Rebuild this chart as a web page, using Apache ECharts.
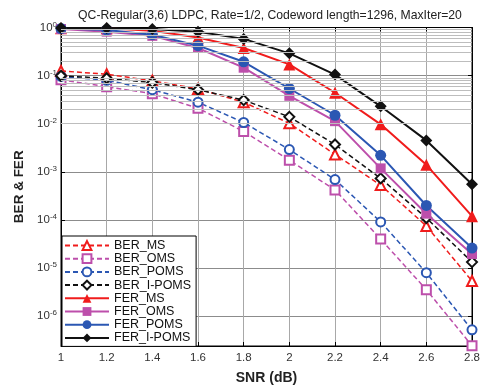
<!DOCTYPE html>
<html>
<head>
<meta charset="utf-8">
<script src="https://cdn.jsdelivr.net/npm/echarts@6/dist/echarts.min.js"></script>
<style>
  html, body { margin: 0; padding: 0; background: #fff; }
  #chart { width: 483px; height: 390px; }
</style>
</head>
<body>
<div id="chart"></div>
<script>
// SNR points (dB)
const snr = [1, 1.2, 1.4, 1.6, 1.8, 2.0, 2.2, 2.4, 2.6, 2.8];

// bit error rate
const berMS = [0.125, 0.107, 0.078, 0.053, 0.028, 0.0102, 0.0023, 5.3e-4, 7.5e-5, 5.4e-6];
const berOMS = [0.082, 0.059, 0.042, 0.021, 0.0069, 0.00175, 4.2e-4, 4.0e-5, 3.55e-6, 2.43e-7];
const berPOMS = [0.096, 0.080, 0.051, 0.028, 0.0106, 0.0029, 6.9e-4, 9.1e-5, 8.0e-6, 5.2e-7];
const berIPOMS = [0.099, 0.088, 0.072, 0.051, 0.031, 0.0139, 0.0037, 7.3e-4, 1.1e-4, 1.33e-5];

// frame error rate
const ferMS = [0.97, 0.96, 0.86, 0.62, 0.375, 0.171, 0.044, 0.0097, 0.0014, 1.2e-4];
const ferOMS = [0.93, 0.82, 0.67, 0.375, 0.146, 0.038, 0.0113, 0.00118, 1.35e-4, 1.96e-5];
const ferPOMS = [0.95, 0.89, 0.71, 0.42, 0.194, 0.054, 0.015, 0.0022, 2.0e-4, 2.6e-5];
const ferIPOMS = [0.98, 0.98, 0.93, 0.82, 0.58, 0.29, 0.105, 0.023, 0.0045, 5.5e-4];

const Y_MIN = 2.4e-7;
const Y_MAX = 1;

const RED = '#f01c1c';
const MAGENTA = '#bd4fab';
const BLUE = '#2b57b3';
const BLACK = '#111';

// minor log grid lines (2..9 in every decade)
const minorLines = [];
for (let e = -7; e < 0; e++) {
  for (let k = 2; k <= 9; k++) {
    const v = k * Math.pow(10, e);
    if (v > Y_MIN && v < Y_MAX) minorLines.push({yAxis: v});
  }
}

const pair = data => snr.map((x, i) => [x, data[i]]);

function ber(name, data, color, symbol, size) {
  return {
    name: name,
    type: 'line',
    data: pair(data),
    symbol: symbol,
    symbolSize: size,
    z: 3,
    lineStyle: {color: color, width: 1.5, type: [5, 3]},
    itemStyle: {color: color, borderWidth: 1.5},
  };
}

function fer(name, data, color, symbol, size) {
  return {
    name: name,
    type: 'line',
    data: pair(data),
    symbol: symbol,
    symbolSize: size,
    z: 4,
    lineStyle: {color: color, width: 2},
    itemStyle: {color: color},
  };
}

const chart = echarts.init(document.getElementById('chart'), null, {renderer: 'canvas'});

const option = {
  backgroundColor: '#fff',
  animation: false,
  title: {
    text: 'QC-Regular(3,6) LDPC, Rate=1/2, Codeword length=1296, MaxIter=20',
    left: 265,
    top: 5,
    textAlign: 'center',
    textStyle: {fontFamily: 'Liberation Sans', fontSize: 12.2, fontWeight: 'normal', color: '#222'},
  },
  grid: {
    left: 61,
    right: 10,
    top: 27.5,
    bottom: 38.3,
    show: true,
    borderColor: '#000',
    borderWidth: 1,
    containLabel: false,
  },
  legend: {
    orient: 'vertical',
    left: 62,
    top: 236,
    itemWidth: 44,
    itemHeight: 11,
    itemGap: 0.2,
    padding: [3, 5, 2, 2],
    backgroundColor: '#fff',
    borderColor: '#000',
    borderWidth: 1,
    textStyle: {fontFamily: 'Liberation Sans', fontSize: 12.5, lineHeight: 12, color: '#111'},
    data: ['BER_MS', 'BER_OMS', 'BER_POMS', 'BER_I-POMS', 'FER_MS', 'FER_OMS', 'FER_POMS', 'FER_I-POMS'],
  },
  xAxis: [
    {
      type: 'value',
      min: 1,
      max: 2.8,
      interval: 0.2,
      name: 'SNR (dB)',
      nameLocation: 'middle',
      nameGap: 25,
      nameTextStyle: {fontFamily: 'Liberation Sans', fontSize: 14, fontWeight: 'bold', color: '#222'},
      axisLine: {lineStyle: {color: '#000', width: 1}},
      axisTick: {inside: true, length: 4, lineStyle: {color: '#000'}},
      axisLabel: {fontFamily: 'Liberation Sans', fontSize: 11.5, color: '#333', margin: 6},
      splitLine: {show: true, lineStyle: {color: '#a8a8a8', width: 1}},
    },
    {
      type: 'value',
      position: 'top',
      min: 1,
      max: 2.8,
      interval: 0.2,
      axisLine: {lineStyle: {color: '#000', width: 1}},
      axisTick: {inside: true, length: 4, lineStyle: {color: '#000'}},
      axisLabel: {show: false},
      splitLine: {show: false},
    },
  ],
  yAxis: [
    {
      type: 'log',
      min: Y_MIN,
      max: Y_MAX,
      name: 'BER & FER',
      nameLocation: 'middle',
      nameGap: 35,
      nameTextStyle: {fontFamily: 'Liberation Sans', fontSize: 13.5, fontWeight: 'bold', color: '#222'},
      axisLine: {lineStyle: {color: '#000', width: 1}},
      axisTick: {inside: true, length: 4, lineStyle: {color: '#000'}},
      axisLabel: {
        margin: 4,
        showMinLabel: false,
        formatter: function (value) {
          const lg = Math.log10(value);
          const e = Math.round(lg);
          if (Math.abs(lg - e) > 0.01) return '';
          return '{b|10}{e|' + e + '}';
        },
        rich: {
          b: {fontFamily: 'Liberation Sans', fontSize: 11.5, color: '#333', lineHeight: 14},
          e: {fontFamily: 'Liberation Sans', fontSize: 8, color: '#333', verticalAlign: 'top', lineHeight: 8, padding: [0, 0, 7, 0]},
        },
      },
      splitLine: {show: true, lineStyle: {color: '#8c8c8c', width: 1}},
    },
    {
      type: 'log',
      position: 'right',
      min: Y_MIN,
      max: Y_MAX,
      axisLine: {lineStyle: {color: '#000', width: 1}},
      axisTick: {inside: true, length: 4, lineStyle: {color: '#000'}},
      axisLabel: {show: false},
      splitLine: {show: false},
    },
  ],
  series: [
    {
      type: 'line',
      data: [],
      z: 1,
      silent: true,
      markLine: {
        silent: true,
        symbol: ['none', 'none'],
        label: {show: false},
        lineStyle: {color: '#bdbdbd', width: 1, type: 'solid'},
        data: minorLines,
      },
    },
    ber('BER_MS', berMS, RED, 'emptyTriangle', 10),
    ber('BER_OMS', berOMS, MAGENTA, 'emptyRect', 9),
    ber('BER_POMS', berPOMS, BLUE, 'emptyCircle', 9),
    ber('BER_I-POMS', berIPOMS, BLACK, 'emptyDiamond', 10),
    fer('FER_MS', ferMS, RED, 'triangle', 12),
    fer('FER_OMS', ferOMS, MAGENTA, 'rect', 10),
    fer('FER_POMS', ferPOMS, BLUE, 'circle', 11),
    fer('FER_I-POMS', ferIPOMS, BLACK, 'diamond', 12),
  ],
};

chart.setOption(option);
</script>
</body>
</html>
